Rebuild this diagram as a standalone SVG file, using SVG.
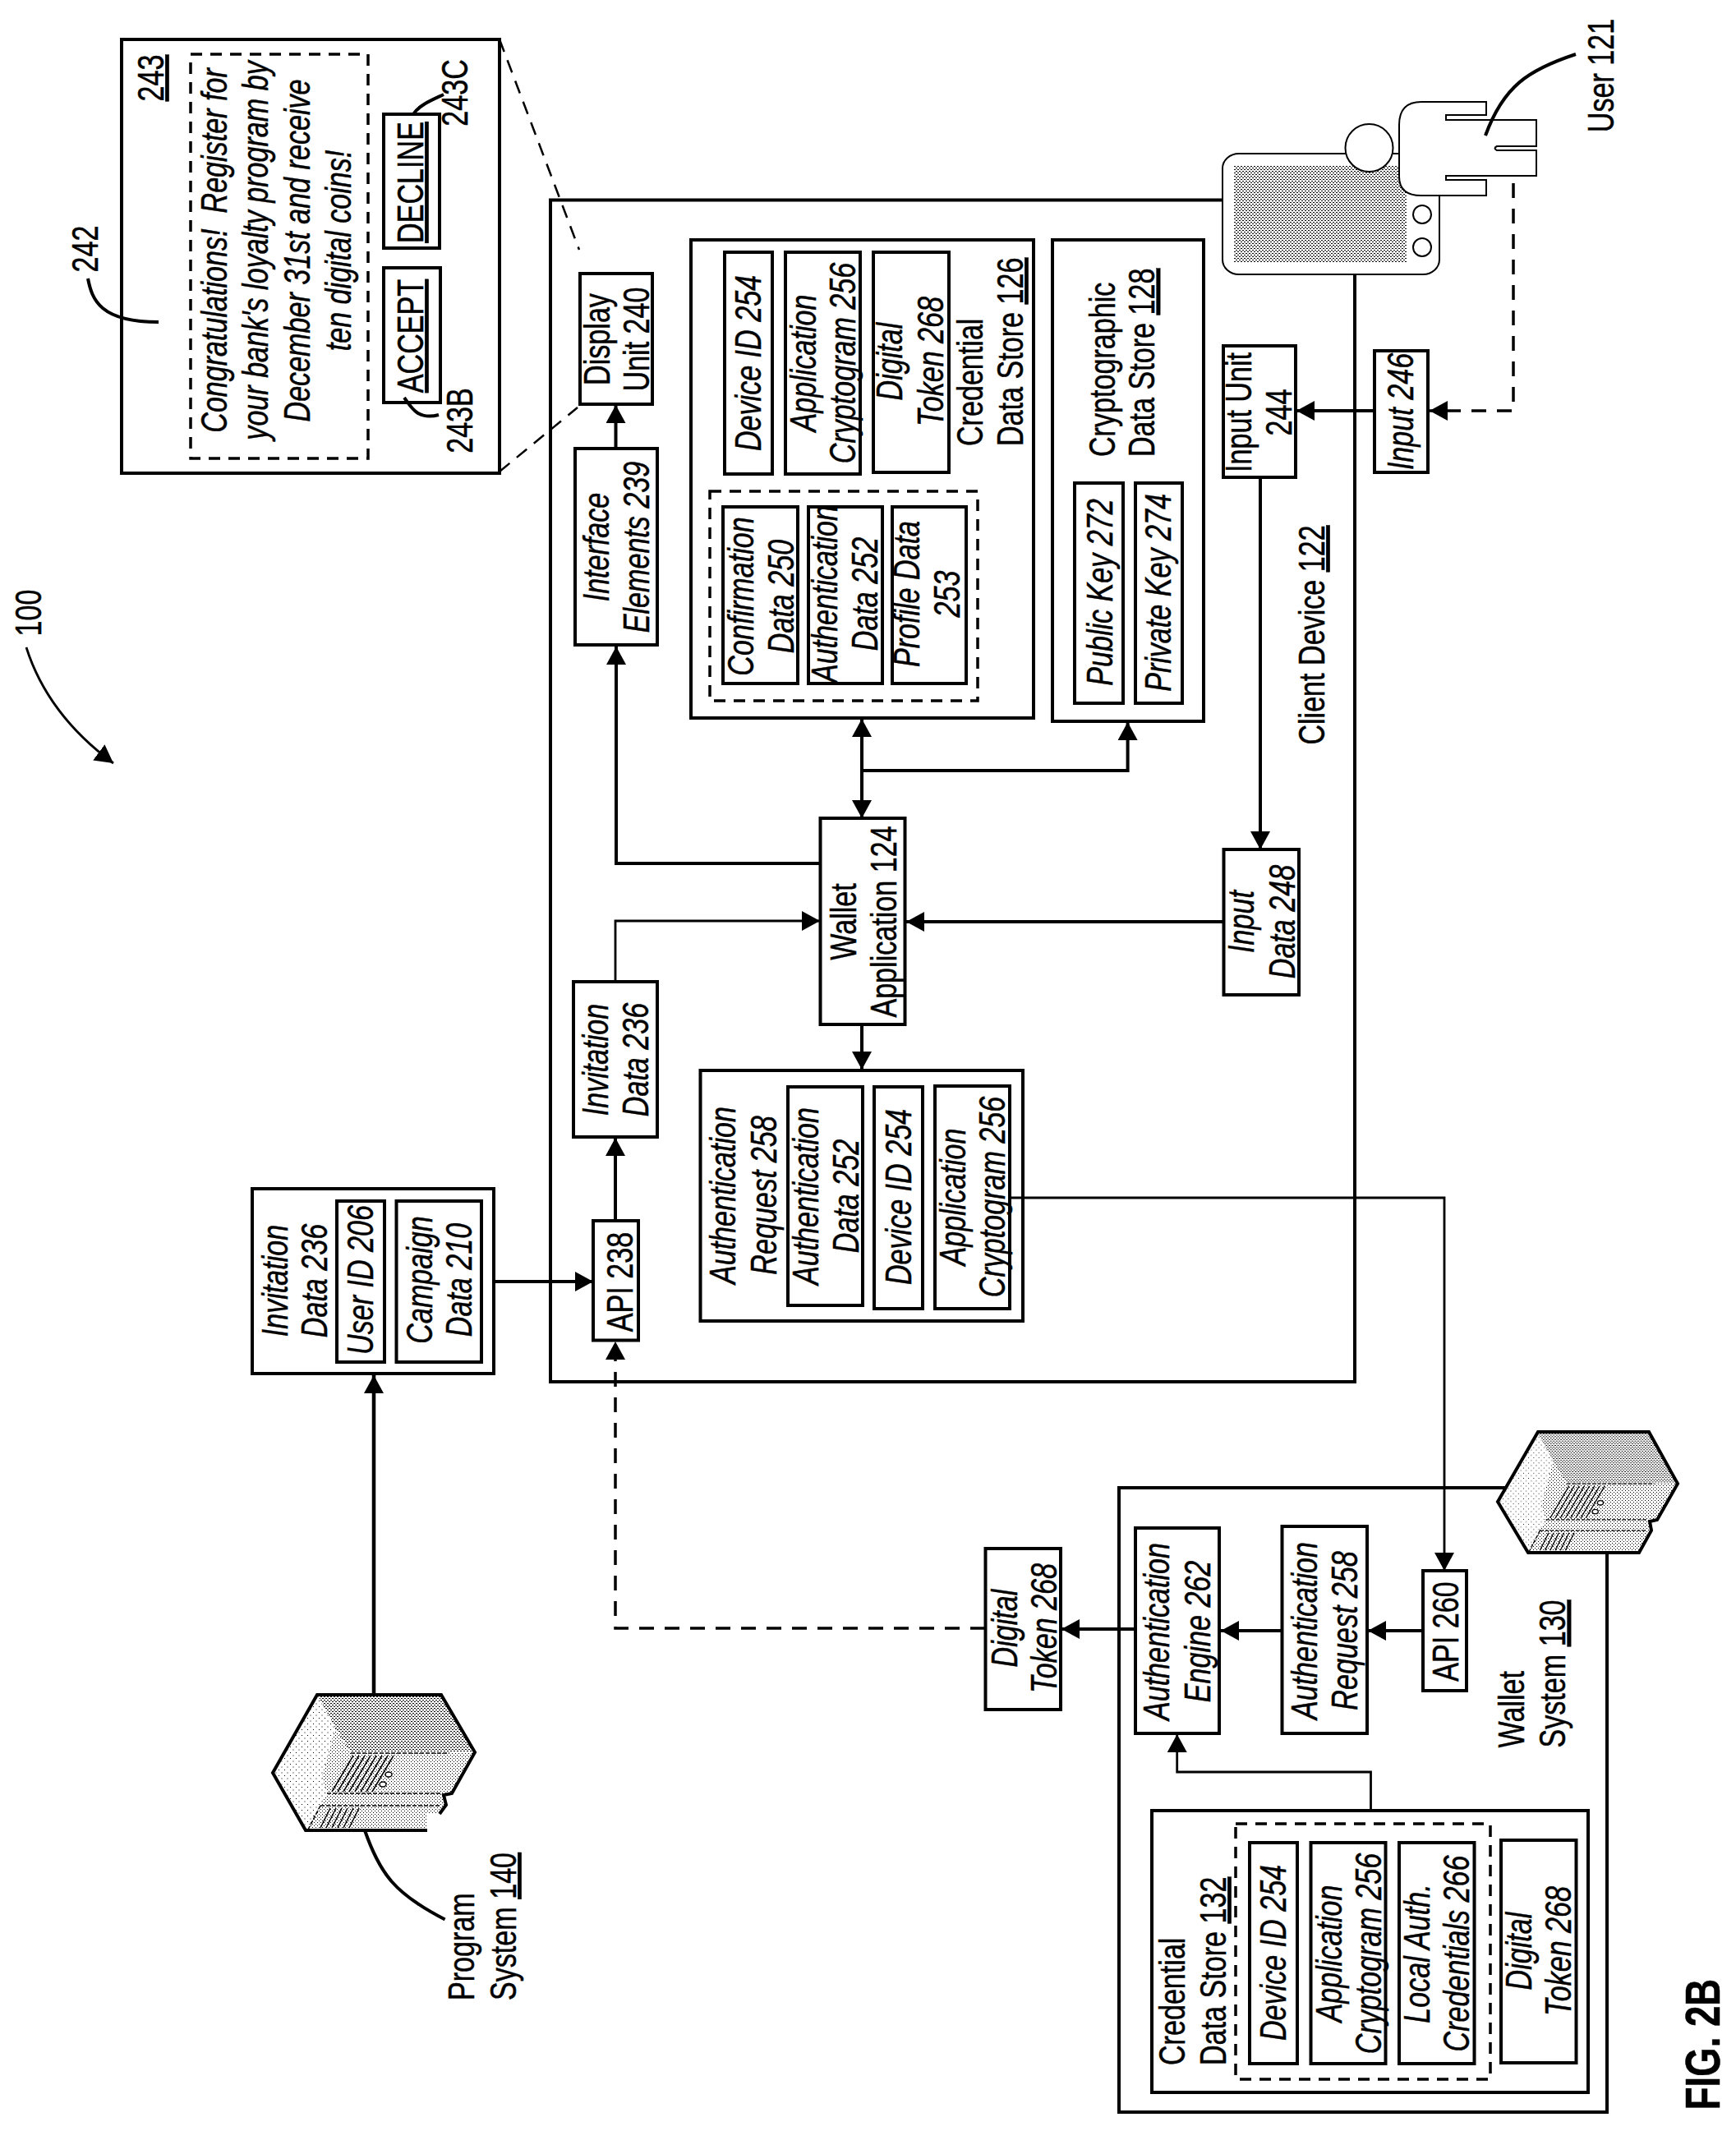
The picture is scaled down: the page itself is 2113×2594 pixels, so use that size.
<svg xmlns="http://www.w3.org/2000/svg" xmlns:xlink="http://www.w3.org/1999/xlink" width="2113" height="2594" viewBox="0 0 2113 2594">
<style>
text{font-family:"Liberation Sans",Arial,sans-serif;font-size:44px;fill:#000;stroke:#000;stroke-width:.5;text-anchor:middle}
.i{font-style:italic}
.s{text-anchor:start}
.p{white-space:pre}
.u{text-decoration:underline}
.fig{font-size:60px;font-weight:bold}
rect,.b{fill:#fff;stroke:#000;stroke-width:4}
.o{fill:none;stroke:#000;stroke-width:4}
.d{fill:none;stroke:#000;stroke-width:3.5;stroke-dasharray:14 10}
.c{fill:none;stroke:#000;stroke-width:4;marker-end:url(#a)}
.t{stroke-width:2.8}
.cd{stroke-width:3.5;stroke-dasharray:18 13}
.l{fill:none;stroke:#000;stroke-width:4}
.z{fill:none;stroke:#000;stroke-width:2.5;stroke-dasharray:16 11}
.th{fill:#fff;stroke:#000;stroke-width:2}
.nb{stroke:none}
.sv{fill:none;stroke:#000;stroke-width:4}
</style>
<defs>
<marker id="a" markerUnits="userSpaceOnUse" markerWidth="23" markerHeight="25" refX="22" refY="12" orient="auto-start-reverse"><path d="M0,0L22,12L0,24z"/></marker>
<pattern id="dn" width="4" height="4" patternUnits="userSpaceOnUse"><rect class="nb" width="4" height="4" style="fill:#fff"/><rect class="nb" width="2" height="1" style="fill:#000"/><rect class="nb" x="2" y="2" width="2" height="1" style="fill:#000"/></pattern>
<pattern id="md" width="4" height="4" patternUnits="userSpaceOnUse"><rect class="nb" width="4" height="4" style="fill:#fff"/><rect class="nb" width="1" height="1" style="fill:#000"/><rect class="nb" x="2" y="2" width="1" height="1" style="fill:#000"/></pattern>
<pattern id="sp" width="7" height="7" patternUnits="userSpaceOnUse"><rect class="nb" width="7" height="7" style="fill:#fff"/><rect class="nb" width="1" height="1" style="fill:#000"/><rect class="nb" x="3.500" y="3.500" width="1" height="1" style="fill:#000"/></pattern>
<g id="srv-d">
<path d="M54,0L205,0L246,70L95,70L76,40z" fill="url(#dn)"/>
<path d="M0,95L54,0L76,40L60,100L66,120L40,165z" fill="url(#sp)"/>
<path d="M95,71H215M66,120H205M58,135H205M58,135L43,164" fill="none" stroke="#000" stroke-width="1.500" stroke-dasharray="5 2"/>
<path d="M72,118L98,74M79,118L105,74M86,118L112,74M93,118L119,74M100,118L126,74M107,118L133,74M114,118L140,74M121,118L147,74M58,162L70,138M65,162L77,138M72,162L84,138M79,162L91,138M86,162L98,138M93,162L105,138" fill="none" stroke="#000" stroke-width="1.500"/>
<ellipse cx="141" cy="97" rx="4" ry="3" fill="#fff" stroke="#000" stroke-width="1.500"/>
<ellipse cx="134" cy="109" rx="4" ry="3" fill="#fff" stroke="#000" stroke-width="1.500"/>
</g>
</defs>

<g id="ref-100"><text transform="translate(50,746) rotate(-90) scale(.775,1)">100</text></g>

<g id="screen-242">
<rect x="148" y="48" width="460" height="528"/>
<path class="d" d="M232,66H448V558H232z"/>
<text class="u" transform="translate(199,95) rotate(-90) scale(.775,1)">243</text>
<text class="i p" transform="translate(275.500,305) rotate(-90) scale(.775,1)"><tspan x="0">Congratulations!  Register for</tspan><tspan x="0" dy="51">your bank's loyalty program by</tspan><tspan x="0" dy="51">December 31st and receive</tspan><tspan x="0" dy="50">ten digital coins!</tspan></text>
<text transform="translate(119,303) rotate(-90) scale(.775,1)">242</text>
</g>
<g id="decline-243C"><rect x="467" y="139" width="68" height="163"/><text class="u" transform="translate(515,222) rotate(-90) scale(.775,1)">DECLINE</text><text transform="translate(569,113) rotate(-90) scale(.775,1)">243C</text></g>
<g id="accept-243B"><rect x="467" y="326" width="69" height="164"/><text class="u" transform="translate(515,409) rotate(-90) scale(.775,1)">ACCEPT</text><text transform="translate(575,512) rotate(-90) scale(.775,1)">243B</text></g>

<g id="client-device-122">
<path class="o" d="M1490,243.500H670V1682H1649V335"/>
<text transform="translate(1612,773) rotate(-90) scale(.775,1)">Client Device <tspan class="u">122</tspan></text>
</g>
<g id="phone">
<rect x="1488" y="187" width="264" height="147" rx="20" ry="18" style="stroke-width:2"/>
<rect class="nb" x="1502" y="202" width="210" height="117" style="fill:url(#dn)"/>
<circle cx="1731" cy="261" r="11" class="th"/>
<circle cx="1731" cy="301" r="11" class="th"/>
</g>
<g id="user-121">
<circle cx="1666.500" cy="180" r="29" class="th"/>
<path class="th" d="M1703,152Q1703,124 1730,124H1809V140H1760V146H1870V178H1822Q1817,180.500 1822,183H1870V214H1760V219H1809V238H1730Q1703,238 1703,215z"/>
<text transform="translate(1964,92) rotate(-90) scale(.775,1)">User 121</text>
</g>

<g id="display-unit-240"><rect x="706" y="333" width="88" height="159"/><text transform="translate(742,413) rotate(-90) scale(.775,1)"><tspan x="0">Display</tspan><tspan x="0" dy="48.500">Unit 240</tspan></text></g>
<g id="interface-elements-239"><rect x="700" y="546" width="100" height="239"/><text class="i" transform="translate(741,666) rotate(-90) scale(.775,1)"><tspan x="0">Interface</tspan><tspan x="0" dy="49">Elements 239</tspan></text></g>

<g id="credential-store-126">
<rect x="841" y="292" width="417" height="582"/>
<text class="s" transform="translate(1195.500,543) rotate(-90) scale(.775,1)"><tspan x="0">Credential</tspan><tspan x="0" dy="49.500">Data Store <tspan class="u">126</tspan></tspan></text>
</g>
<g id="device-id-254-a"><rect x="882" y="307" width="58" height="270"/><text class="i" transform="translate(926,442) rotate(-90) scale(.775,1)">Device ID 254</text></g>
<g id="app-cryptogram-256-a"><rect x="956" y="307" width="91" height="270"/><text class="i" transform="translate(993,442) rotate(-90) scale(.775,1)"><tspan x="0">Application</tspan><tspan x="0" dy="48">Cryptogram 256</tspan></text></g>
<g id="digital-token-268-a"><rect x="1063" y="307" width="92" height="268"/><text class="i" transform="translate(1098,440) rotate(-90) scale(.775,1)"><tspan x="0">Digital</tspan><tspan x="0" dy="50">Token 268</tspan></text></g>
<g id="dashed-126"><path class="d" d="M864,598H1190V853H864z"/></g>
<g id="confirmation-250"><rect x="880" y="617" width="91" height="215"/><text class="i" transform="translate(917,726) rotate(-90) scale(.775,1)"><tspan x="0">Confirmation</tspan><tspan x="0" dy="49">Data 250</tspan></text></g>
<g id="authentication-252-a"><rect x="984" y="617" width="90" height="215"/><text class="i" transform="translate(1019,723) rotate(-90) scale(.775,1)"><tspan x="0">Authentication</tspan><tspan x="0" dy="49">Data 252</tspan></text></g>
<g id="profile-253"><rect x="1086" y="617" width="90" height="215"/><text class="i" transform="translate(1119,723) rotate(-90) scale(.775,1)"><tspan x="0">Profile Data</tspan><tspan x="0" dy="49">253</tspan></text></g>

<g id="crypto-store-128">
<rect x="1281" y="292" width="184" height="586"/>
<text class="s" transform="translate(1357,556) rotate(-90) scale(.775,1)"><tspan x="0">Cryptographic</tspan><tspan x="0" dy="48.500">Data Store <tspan class="u">128</tspan></tspan></text>
</g>
<g id="public-key-272"><rect x="1308" y="588" width="59" height="268"/><text class="i" transform="translate(1354,721) rotate(-90) scale(.775,1)">Public Key 272</text></g>
<g id="private-key-274"><rect x="1382" y="588" width="57" height="268"/><text class="i" transform="translate(1425,721.500) rotate(-90) scale(.775,1)">Private Key 274</text></g>

<g id="input-unit-244"><rect x="1489" y="421" width="88" height="160"/><text transform="translate(1523,502) rotate(-90) scale(.775,1)"><tspan x="0">Input Unit</tspan><tspan x="0" dy="49">244</tspan></text></g>
<g id="input-246"><rect x="1673" y="427" width="65" height="148"/><text class="i" transform="translate(1720,501) rotate(-90) scale(.775,1)">Input 246</text></g>
<g id="input-data-248"><rect x="1489.500" y="1034" width="91.500" height="177"/><text class="i" transform="translate(1526,1122) rotate(-90) scale(.775,1)"><tspan x="0">Input</tspan><tspan x="0" dy="50">Data 248</tspan></text></g>
<g id="wallet-application-124"><rect x="998.500" y="996" width="103" height="251"/><text transform="translate(1042,1122) rotate(-90) scale(.775,1)"><tspan x="0">Wallet</tspan><tspan x="0" dy="49">Application 124</tspan></text></g>
<g id="invitation-236-client"><rect x="698" y="1195" width="102" height="189"/><text class="i" transform="translate(740,1290) rotate(-90) scale(.775,1)"><tspan x="0">Invitation</tspan><tspan x="0" dy="49">Data 236</tspan></text></g>
<g id="api-238"><rect x="722" y="1486" width="55" height="145.500"/><text transform="translate(769.500,1560.500) rotate(-90) scale(.775,1)">API 238</text></g>

<g id="auth-request-258-client">
<rect x="852.500" y="1303" width="392.500" height="305"/>
<text class="i" transform="translate(895,1455) rotate(-90) scale(.775,1)"><tspan x="0">Authentication</tspan><tspan x="0" dy="50">Request 258</tspan></text>
</g>
<g id="authentication-252-b"><rect x="959" y="1323" width="91" height="266"/><text class="i" transform="translate(996,1456) rotate(-90) scale(.775,1)"><tspan x="0">Authentication</tspan><tspan x="0" dy="49">Data 252</tspan></text></g>
<g id="device-id-254-b"><rect x="1064" y="1323" width="59" height="270"/><text class="i" transform="translate(1108.500,1457) rotate(-90) scale(.775,1)">Device ID 254</text></g>
<g id="app-cryptogram-256-b"><rect x="1138" y="1322" width="91" height="271"/><text class="i" transform="translate(1175,1457) rotate(-90) scale(.775,1)"><tspan x="0">Application</tspan><tspan x="0" dy="48">Cryptogram 256</tspan></text></g>

<g id="invitation-236-program">
<rect x="307" y="1447" width="294" height="225"/>
<text class="i" transform="translate(350,1559) rotate(-90) scale(.775,1)"><tspan x="0">Invitation</tspan><tspan x="0" dy="48">Data 236</tspan></text>
</g>
<g id="user-id-206"><rect x="410" y="1462" width="58" height="196"/><text class="i" transform="translate(454,1558) rotate(-90) scale(.775,1)">User ID 206</text></g>
<g id="campaign-210"><rect x="482.500" y="1462" width="103.500" height="196"/><text class="i" transform="translate(525.500,1558) rotate(-90) scale(.775,1)"><tspan x="0">Campaign</tspan><tspan x="0" dy="48.500">Data 210</tspan></text></g>

<g id="program-system-140">
<path class="nb" d="M332,2158L386,2063L537,2063L578,2133L550,2183L540,2185L543,2197L535,2208L520,2208L520,2228L372,2228z" fill="url(#md)"/>
<use xlink:href="#srv-d" href="#srv-d" transform="translate(332,2063)"/>
<path class="sv" d="M520,2228H372L332,2158L386,2063H537L578,2133L550,2183L540,2185L543,2197L535,2208"/>
<text class="s" transform="translate(577,2435) rotate(-90) scale(.775,1)"><tspan x="0">Program</tspan><tspan x="0" dy="51">System <tspan class="u">140</tspan></tspan></text>
</g>

<g id="digital-token-268-out"><rect x="1199.500" y="1885" width="91.500" height="196"/><text class="i" transform="translate(1237.500,1982) rotate(-90) scale(.775,1)"><tspan x="0">Digital</tspan><tspan x="0" dy="49">Token 268</tspan></text></g>

<g id="wallet-system-130">
<path class="o" d="M1832,1811H1362V2571H1956V1888"/>
<path class="nb" d="M1823,1828L1872,1743H2007L2042,1806L2017,1850L2008,1852L2010,1863L1995,1890H1860z" fill="url(#md)"/>
<use xlink:href="#srv-d" href="#srv-d" transform="translate(1823,1743) scale(.886,.89)"/>
<path class="sv" d="M1823,1828L1872,1743H2007L2042,1806L2017,1850L2008,1852L2010,1863L1995,1890H1860z"/>
<text class="s" transform="translate(1854.500,2127.500) rotate(-90) scale(.775,1)"><tspan x="0">Wallet</tspan><tspan x="0" dy="51">System <tspan class="u">130</tspan></tspan></text>
</g>
<g id="authentication-engine-262"><rect x="1382" y="1860" width="102" height="250"/><text class="i" transform="translate(1423,1986) rotate(-90) scale(.775,1)"><tspan x="0">Authentication</tspan><tspan x="0" dy="50">Engine 262</tspan></text></g>
<g id="auth-request-258-wallet"><rect x="1560.500" y="1858" width="103.500" height="252"/><text class="i" transform="translate(1602.500,1985) rotate(-90) scale(.775,1)"><tspan x="0">Authentication</tspan><tspan x="0" dy="49.500">Request 258</tspan></text></g>
<g id="api-260"><rect x="1732" y="1912" width="53" height="146"/><text transform="translate(1775,1986) rotate(-90) scale(.775,1)">API 260</text></g>

<g id="credential-store-132">
<rect x="1402" y="2204" width="531" height="343"/>
<path class="d" d="M1504,2220H1814V2531H1504z"/>
<text class="s" transform="translate(1442,2514) rotate(-90) scale(.775,1)"><tspan x="0">Credential</tspan><tspan x="0" dy="50">Data Store <tspan class="u">132</tspan></tspan></text>
</g>
<g id="device-id-254-c"><rect x="1521" y="2243" width="58" height="269"/><text class="i" transform="translate(1565,2377) rotate(-90) scale(.775,1)">Device ID 254</text></g>
<g id="app-cryptogram-256-c"><rect x="1595.500" y="2243" width="91" height="269"/><text class="i" transform="translate(1633,2378) rotate(-90) scale(.775,1)"><tspan x="0">Application</tspan><tspan x="0" dy="48">Cryptogram 256</tspan></text></g>
<g id="local-auth-266"><rect x="1703" y="2243" width="91.500" height="269"/><text class="i" transform="translate(1739.500,2378) rotate(-90) scale(.775,1)"><tspan x="0">Local Auth.</tspan><tspan x="0" dy="48.500">Credentials 266</tspan></text></g>
<g id="digital-token-268-c"><rect x="1827" y="2240" width="91.500" height="271"/><text class="i" transform="translate(1863.500,2375) rotate(-90) scale(.775,1)"><tspan x="0">Digital</tspan><tspan x="0" dy="49">Token 268</tspan></text></g>

<g id="fig-label"><text class="fig" transform="translate(2092.500,2488.500) rotate(-90) scale(.76,1)">FIG. 2B</text></g>

<g id="connectors">
<path class="c" d="M455,2061V1674" style="stroke-width:4.500"/>
<path class="c" d="M601,1560H722"/>
<path class="c" d="M749,1486V1385"/>
<path class="c t" d="M749,1195V1121H998"/>
<path class="c" d="M998,1051H750V787"/>
<path class="c" d="M749.500,546V493"/>
<path class="c" d="M1489,1122H1103"/>
<path class="c" d="M1534,581V1034"/>
<path class="c" d="M1673,500H1578"/>
<path class="c cd" d="M1842,223V500H1740"/>
<path class="c" d="M1049,996V875" style="marker-start:url(#a)"/>
<path class="c" d="M1049,938H1372.600V879"/>
<path class="c" d="M1049,1247V1302"/>
<path class="c t" d="M1229,1458H1758V1912"/>
<path class="c" d="M1732,1985H1665"/>
<path class="c" d="M1560.500,1985H1486"/>
<path class="c" d="M1382,1983H1292"/>
<path class="c cd" d="M1199,1982H749V1633"/>
<path class="c t" d="M1668.500,2204V2157H1432.700V2111"/>
<path class="c t" d="M32,788Q58,870 138,929"/>
<path class="l" d="M107,339C112,365 122,392 193,392"/>
<path class="l" d="M503,139C510,128 525,122 540,115"/>
<path class="l" d="M492,484C500,495 508,512 534,505"/>
<path class="l" d="M444,2228C462,2280 480,2305 541.600,2336.500"/>
<path class="l" d="M1808,165C1830,105 1860,85 1918,66"/>
<path class="z" d="M608,48L705,304"/>
<path class="z" d="M608,574L703,496"/>
</g>
</svg>
